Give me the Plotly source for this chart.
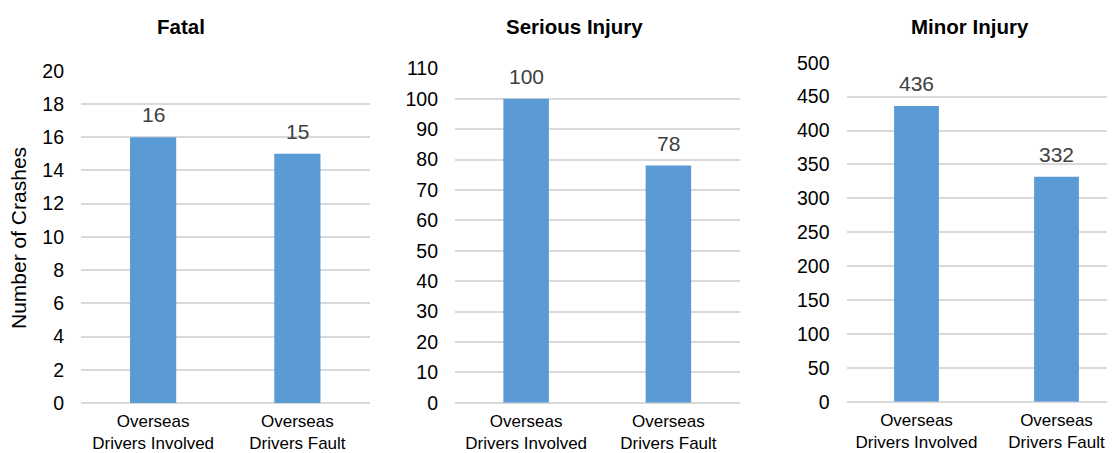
import plotly.graph_objects as go

# The page body has an 8px default margin, so the figure is drawn 8px in.
OFF = 8
W, H = 1115 - OFF, 453 - OFF

categories = ["Overseas<br>Drivers Involved", "Overseas<br>Drivers Fault"]
panel_titles = ["Fatal", "Serious Injury", "Minor Injury"]
fatal = [16, 15]
serious = [100, 78]
minor = [436, 332]
series = [fatal, serious, minor]
y_max = [20, 110, 500]
y_step = [2, 10, 50]
y_axis_title = "Number of Crashes"

BAR = "#5b9bd5"
GRID = "#d9d9d9"
FONT = "Liberation Sans, Arial, sans-serif"

# layout geometry in screen pixels (of the 1115x453 window)
x_dom_px = [(81, 369.5), (455, 739.5), (846.5, 1115)]
y_dom_px = [(403, 70.7), (402.7, 68.3), (401.8, 62.7)]
x_ranges = [[-0.5, 1.5], [-0.5, 1.5], [-0.5, -0.5 + (1115 - 846.5) / 140.0]]
title_px = [(181, 26), (574, 26), (970, 26)]


def px(x):
    return (x - OFF) / W


def py(y):
    return 1 - (y - OFF) / H


fig = go.Figure()
annotations = []
for i, vals in enumerate(series):
    n = "" if i == 0 else str(i + 1)
    fig.add_trace(go.Bar(
        x=categories, y=vals, xaxis="x" + n, yaxis="y" + n,
        marker=dict(color=BAR, line=dict(width=0)), width=0.32,
        showlegend=False, hoverinfo="x+y",
    ))
    fig.update_layout(**{
        "xaxis" + n: dict(
            domain=[px(x_dom_px[i][0]), min(1, px(x_dom_px[i][1]))],
            anchor="y" + n, type="category", range=x_ranges[i],
            showgrid=False, showline=False, zeroline=False, ticks="",
            tickfont=dict(family=FONT, size=17, color="#000000"),
            ticklabelstandoff=6, automargin=False, fixedrange=True,
        ),
        "yaxis" + n: dict(
            domain=[py(y_dom_px[i][0]), py(y_dom_px[i][1])],
            anchor="x" + n, range=[0, y_max[i]], dtick=y_step[i], tick0=0,
            showgrid=True, gridcolor=GRID, gridwidth=1.5,
            zeroline=True, zerolinecolor=GRID, zerolinewidth=1.5,
            showline=False, ticks="",
            tickfont=dict(family=FONT, size=19.5, color="#000000"),
            ticklabelstandoff=16, automargin=False, fixedrange=True,
        ),
    })
    for c, v in zip(categories, vals):
        annotations.append(dict(
            x=c, y=v, xref="x" + n, yref="y" + n, text=str(v),
            showarrow=False, yanchor="middle", yshift=22.5,
            font=dict(family=FONT, size=21, color="#404040"),
        ))
    annotations.append(dict(
        x=px(title_px[i][0]), y=py(title_px[i][1]), xref="paper", yref="paper",
        text="<b>" + panel_titles[i] + "</b>", showarrow=False,
        xanchor="center", yanchor="middle",
        font=dict(family=FONT, size=20.5, color="#000000"),
    ))

annotations.append(dict(
    x=px(18), y=py(238), xref="paper", yref="paper", text=y_axis_title,
    showarrow=False, textangle=-90, xanchor="center", yanchor="middle",
    font=dict(family=FONT, size=21, color="#000000"),
))

fig.update_layout(
    width=W, height=H, margin=dict(l=0, r=0, t=0, b=0),
    paper_bgcolor="white", plot_bgcolor="white",
    annotations=annotations, bargap=0.68,
)

fig.write_html("out.html", config={"displayModeBar": False})
